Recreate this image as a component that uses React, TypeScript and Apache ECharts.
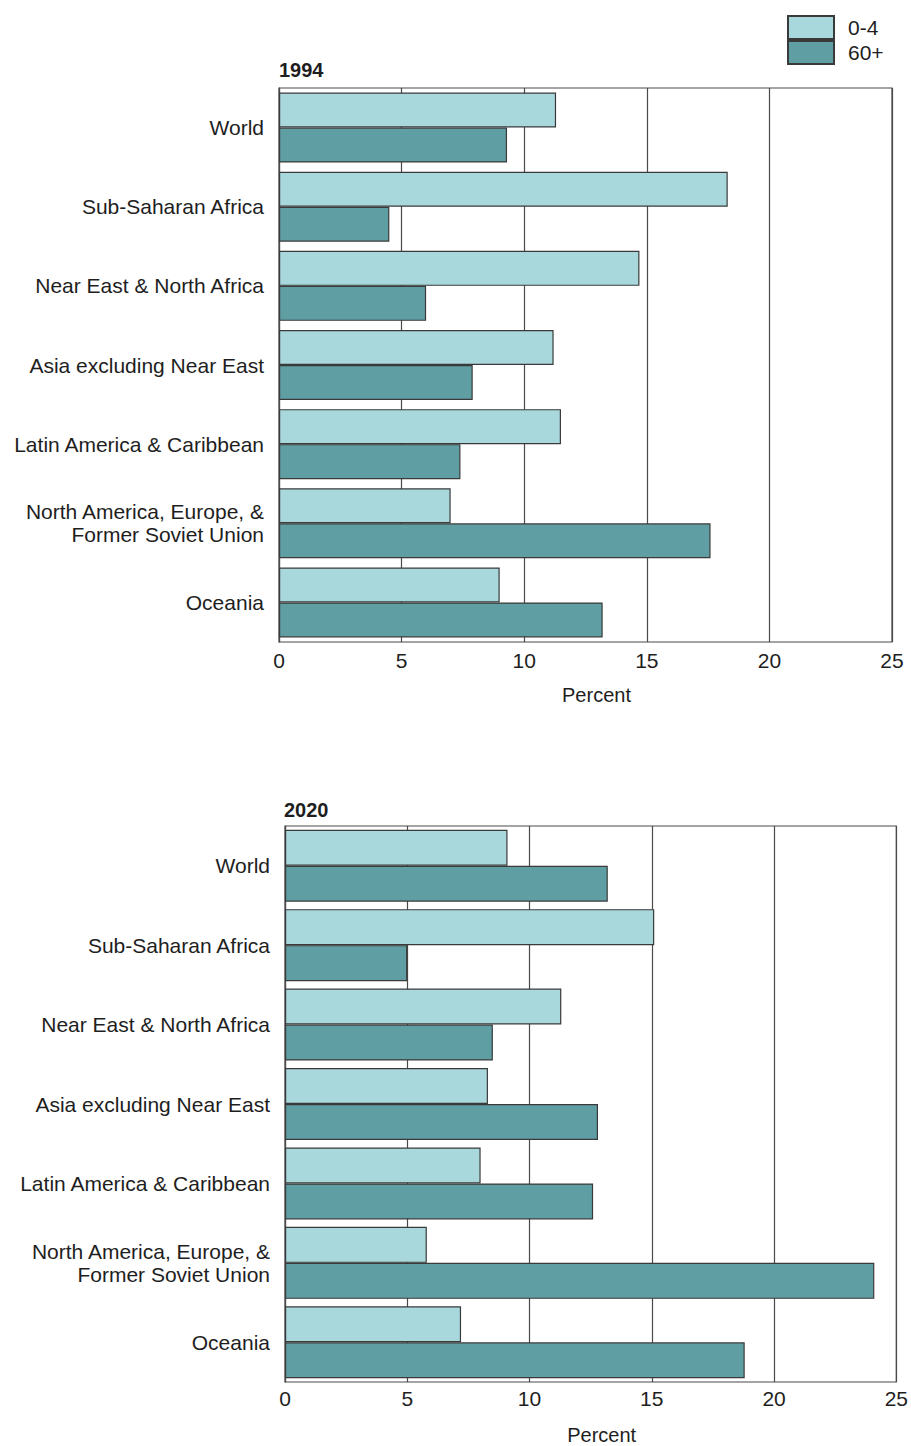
import React, { useEffect, useRef } from "react";
import * as echarts from "echarts";

const categories = [
  "World",
  "Sub-Saharan Africa",
  "Near East & North Africa",
  "Asia excluding Near East",
  "Latin America & Caribbean",
  "North America, Europe, &\nFormer Soviet Union",
  "Oceania",
];
const seriesNames = ["0-4", "60+"];
const age04_1994 = [11.3, 18.3, 14.7, 11.2, 11.5, 7.0, 9.0];
const age60_1994 = [9.3, 4.5, 6.0, 7.9, 7.4, 17.6, 13.2];
const age04_2020 = [9.1, 15.1, 11.3, 8.3, 8.0, 5.8, 7.2];
const age60_2020 = [13.2, 5.0, 8.5, 12.8, 12.6, 24.1, 18.8];
const panelTitles = ["1994", "2020"];
const xMin = 0;
const xMax = 25;
const xInterval = 5;

const FONT = "Liberation Sans, Arial, Helvetica, sans-serif";
const LIGHT = "#a8d8dc";
const DARK = "#5f9fa3";
const TEXT = "#1e1e1e";

export default function App() {
  const ref = useRef<HTMLDivElement>(null);

  useEffect(() => {
    if (!ref.current) return;
    const chart = echarts.init(ref.current, null, { renderer: "svg" });

    const grids = [
      { left: 279, top: 88, width: 613, height: 554 },
      { left: 285, top: 826, width: 612, height: 557 },
    ];

    const xAxes = grids.map((_, i) => ({
      type: "value",
      gridIndex: i,
      min: xMin,
      max: xMax,
      interval: xInterval,
      name: "Percent",
      nameLocation: "middle",
      nameGap: 43,
      nameTextStyle: { fontFamily: FONT, fontSize: 20, color: TEXT, padding: [0, 0, 0, 22] },
      axisLine: { show: false },
      axisTick: { show: false },
      axisLabel: { fontFamily: FONT, fontSize: 21, color: TEXT, margin: i === 0 ? 8 : 6 },
      splitLine: { show: true, lineStyle: { color: "#4a4a4a", width: 1.2 } },
    }));

    const yAxes = grids.map((_, i) => ({
      type: "category",
      gridIndex: i,
      data: categories,
      inverse: true,
      axisLine: { show: true, lineStyle: { color: "#4a4a4a", width: 1.2 } },
      axisTick: { show: false },
      axisLabel: {
        fontFamily: FONT,
        fontSize: 21,
        color: TEXT,
        margin: 15,
        align: "right",
        lineHeight: 23,
      },
    }));

    const datasets = [
      [age04_1994, age60_1994],
      [age04_2020, age60_2020],
    ];
    const colors = [LIGHT, DARK];

    const series: any[] = [];
    datasets.forEach((pair, gi) => {
      pair.forEach((values, si) => {
        series.push({
          type: "bar",
          name: seriesNames[si],
          xAxisIndex: gi,
          yAxisIndex: gi,
          data: values,
          barWidth: gi === 0 ? 35 : 36,
          barGap: "0%",
          itemStyle: {
            color: colors[si],
            borderColor: "#3a3a3a",
            borderWidth: 1.2,
          },
        });
      });
    });

    chart.setOption({
      animation: false,
      backgroundColor: "#ffffff",
      title: [
        {
          text: panelTitles[0],
          left: 274,
          top: 55,
          textStyle: { fontFamily: FONT, fontSize: 20, fontWeight: "bold", color: TEXT },
        },
        {
          text: panelTitles[1],
          left: 279,
          top: 795,
          textStyle: { fontFamily: FONT, fontSize: 20, fontWeight: "bold", color: TEXT },
        },
      ],
      legend: {
        orient: "vertical",
        left: 787,
        top: 15,
        padding: 0,
        itemWidth: 46,
        itemHeight: 23,
        itemGap: 0,
        icon: "rect",
        data: seriesNames,
        textStyle: { fontFamily: FONT, fontSize: 21, color: TEXT, padding: [0, 0, 0, 9] },
      },
      grid: grids.map((g) => ({
        ...g,
        show: true,
        borderColor: "#4a4a4a",
        borderWidth: 1.2,
        backgroundColor: "transparent",
      })),
      xAxis: xAxes,
      yAxis: yAxes,
      series,
    });

    return () => chart.dispose();
  }, []);

  return (
    <div
      ref={ref}
      style={{ position: "absolute", left: 0, top: 0, width: 911, height: 1446, background: "#fff" }}
    />
  );
}
